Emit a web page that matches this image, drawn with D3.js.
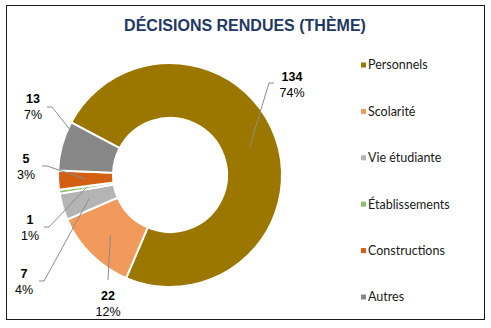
<!DOCTYPE html>
<html>
<head>
<meta charset="utf-8">
<script src="https://cdn.jsdelivr.net/npm/d3@7"></script>
<style>
  html, body { margin: 0; padding: 0; background: #ffffff; }
  svg { display: block; }
</style>
</head>
<body>
<svg id="chart" width="491" height="328"></svg>
<script>
// Decisions by theme
const categories = ["Personnels", "Scolarité", "Vie étudiante", "Établissements", "Constructions", "Autres"];
const values = [134, 22, 7, 1, 5, 13];
const colors = ["#9C7700", "#F19A5C", "#B4B4B4", "#8CC16A", "#D25F12", "#878787"];
const title = "DÉCISIONS RENDUES (THÈME)";

// Label box centres (layout only), one per slice
const labelPos = [[292, 81], [108, 300], [24, 278], [30, 224], [26, 163], [33, 103]];
// Elbow of each leader line, next to its label
const elbowPos = [[269, 83], [108, 280], [44, 281], [49, 227], [47, 166], [52, 107]];

const width = 491, height = 328;
const cx = 170, cy = 175;
const outerR = 112, innerR = 57;
const startDeg = 298;

const svg = d3.select("#chart");

// Frame
svg.append("rect")
  .attr("x", 6.5).attr("y", 5.5)
  .attr("width", 478).attr("height", 314)
  .attr("fill", "#ffffff")
  .attr("stroke", "#1a1a1a")
  .attr("stroke-width", 1);

// Title
svg.append("text")
  .attr("x", 245).attr("y", 31)
  .attr("text-anchor", "middle")
  .attr("font-family", "Liberation Sans, Arial, sans-serif")
  .attr("font-weight", "bold")
  .attr("font-size", 16)
  .attr("fill", "#1F3864")
  .text(title);

const data = categories.map((c, i) => ({ name: c, value: values[i], color: colors[i] }));
const total = d3.sum(values);

const start = startDeg * Math.PI / 180;
const pie = d3.pie()
  .value(d => d.value)
  .sort(null)
  .startAngle(start)
  .endAngle(start + 2 * Math.PI);

const arcs = pie(data);
const arc = d3.arc().innerRadius(innerR).outerRadius(outerR);

const g = svg.append("g").attr("transform", `translate(${cx},${cy})`);

g.selectAll("path.slice")
  .data(arcs)
  .join("path")
  .attr("class", "slice")
  .attr("d", arc)
  .attr("fill", d => d.data.color)
  .attr("stroke", "#ffffff")
  .attr("stroke-width", 2)
  .attr("stroke-linejoin", "miter");

// Leader lines from slice centroid to label
const fmtPct = v => Math.round(v / total * 100) + "%";

arcs.forEach((a, i) => {
  const c = arc.centroid(a);
  const p0 = [cx + c[0], cy + c[1]];
  const elbow = elbowPos[i];
  const lp = labelPos[i];
  let pts;
  if (i === 1) {
    pts = [p0, elbow];
  } else {
    const endX = lp[0] < cx ? elbow[0] - 5 : elbow[0] + 5;
    pts = [p0, elbow, [endX, elbow[1]]];
  }
  svg.append("path")
    .attr("d", d3.line()(pts))
    .attr("fill", "none")
    .attr("stroke", "#8C8C8C")
    .attr("stroke-width", 1);

  const t = svg.append("text")
    .attr("text-anchor", "middle")
    .attr("font-family", "Liberation Sans, Arial, sans-serif")
    .attr("font-size", 12.5)
    .attr("fill", "#000000");
  t.append("tspan")
    .attr("x", lp[0]).attr("y", lp[1])
    .attr("font-weight", "bold")
    .text(a.data.value);
  t.append("tspan")
    .attr("x", lp[0]).attr("y", lp[1] + 16)
    .text(fmtPct(a.data.value));
});

// Legend
const legendY = d3.scalePoint()
  .domain(categories)
  .range([65, 297]);

const leg = svg.append("g");
categories.forEach((c, i) => {
  const y = legendY(c);
  leg.append("rect")
    .attr("x", 361).attr("y", y - 2.5)
    .attr("width", 5).attr("height", 5)
    .attr("fill", colors[i]);
  leg.append("text")
    .attr("x", 368).attr("y", y)
    .attr("dy", "0.35em")
    .attr("font-family", "Lato, Carlito, Calibri, sans-serif")
    .attr("font-size", 12.5)
    .attr("fill", "#1a1a1a")
    .text(c);
});
</script>
</body>
</html>
